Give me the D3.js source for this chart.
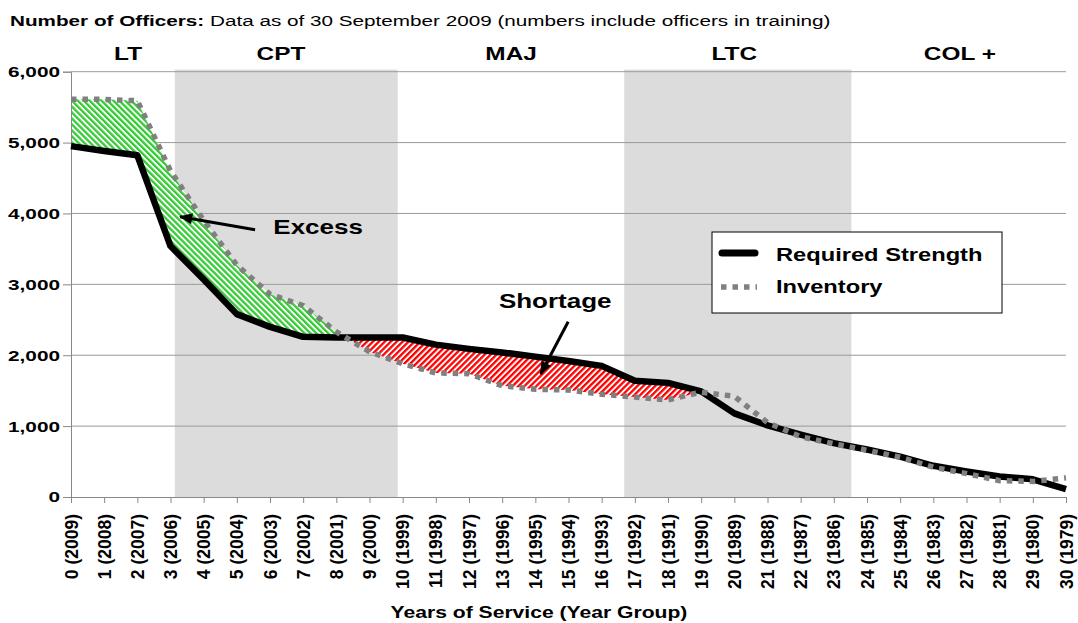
<!DOCTYPE html>
<html>

<head>
    <title>Number of Officers</title>
    <script src="https://d3js.org/d3.v7.min.js"></script>
</head>

<body>
    <style>
        body {
            margin: 0;
            background-color: #ffffff;
            font-family: 'Liberation Sans', Arial, sans-serif;
        }
    </style>
    <div id="chart"></div>

    <script>
        // Years of service (year group)
        const categories = ["0 (2009)", "1 (2008)", "2 (2007)", "3 (2006)", "4 (2005)", "5 (2004)", "6 (2003)",
            "7 (2002)", "8 (2001)", "9 (2000)", "10 (1999)", "11 (1998)", "12 (1997)", "13 (1996)", "14 (1995)",
            "15 (1994)", "16 (1993)", "17 (1992)", "18 (1991)", "19 (1990)", "20 (1989)", "21 (1988)", "22 (1987)",
            "23 (1986)", "24 (1985)", "25 (1984)", "26 (1983)", "27 (1982)", "28 (1981)", "29 (1980)", "30 (1979)"];

        const requiredStrength = [4950, 4880, 4820, 3540, 3070, 2580, 2400, 2260, 2250, 2250, 2250, 2150, 2090, 2040,
            1980, 1920, 1850, 1640, 1610, 1490, 1180, 1010, 880, 760, 670, 570, 440, 360, 290, 250, 110];

        const inventory = [5610, 5610, 5590, 4600, 3900, 3270, 2860, 2700, 2330, 2050, 1880, 1750, 1740, 1570,
            1520, 1510, 1450, 1410, 1370, 1480, 1420, 1050, 850, 750, 660, 560, 420, 330, 230, 220, 270];

        const yTicks = [0, 1000, 2000, 3000, 4000, 5000, 6000];

        // grade headers and the shaded grade bands (in year-of-service units)
        const grades = ["LT", "CPT", "MAJ", "LTC", "COL +"];
        const gradePos = [1.72, 6.33, 13.27, 20.0, 26.8];
        const bandStart = [3.13, 16.68];
        const bandEnd = [9.85, 23.53];

        // excess / shortage shading stops at this year of service
        const fillEnd = 19;

        const margin = { top: 71.7, right: 12, bottom: 126, left: 71 };
        const width = 1078 - margin.left - margin.right;
        const height = 623 - margin.top - margin.bottom;

        // text in the original is drawn wider than normal
        function stretch(sel, sx, dx, dy) {
            sel.attr("x", null).attr("y", null)
                .attr("transform", "translate(" + dx + "," + dy + ") scale(" + sx + ",1)");
        }

        const root = d3.select("#chart")
            .append("svg")
            .attr("width", 1078)
            .attr("height", 623);

        const defs = root.append("defs");

        // hatch patterns
        const green = defs.append("pattern")
            .attr("id", "hatchGreen")
            .attr("patternUnits", "userSpaceOnUse")
            .attr("width", 4.2).attr("height", 4.2)
            .attr("patternTransform", "rotate(-45)");
        green.append("rect").attr("width", 4.2).attr("height", 4.2).attr("fill", "#ffffff");
        green.append("rect").attr("width", 2.3).attr("height", 4.2).attr("fill", "#33cc33");

        const red = defs.append("pattern")
            .attr("id", "hatchRed")
            .attr("patternUnits", "userSpaceOnUse")
            .attr("width", 4.2).attr("height", 4.2)
            .attr("patternTransform", "rotate(45)");
        red.append("rect").attr("width", 4.2).attr("height", 4.2).attr("fill", "#ffffff");
        red.append("rect").attr("width", 2.3).attr("height", 4.2).attr("fill", "#ff0000");

        defs.append("marker")
            .attr("id", "arrow")
            .attr("markerUnits", "userSpaceOnUse")
            .attr("viewBox", "0 0 12 10")
            .attr("refX", 11).attr("refY", 5)
            .attr("markerWidth", 14).attr("markerHeight", 11)
            .attr("orient", "auto")
            .append("path")
            .attr("d", "M0,0 L12,5 L0,10 Z")
            .attr("fill", "#000000");

        const svg = root.append("g")
            .attr("transform", "translate(" + margin.left + "," + margin.top + ")");

        const x = d3.scaleLinear()
            .domain([0, categories.length - 1])
            .range([0, width]);

        const y = d3.scaleLinear()
            .domain([0, 6000])
            .range([height, 0]);

        // grade bands
        svg.selectAll(".band")
            .data(bandStart)
            .enter()
            .append("rect")
            .attr("class", "band")
            .attr("x", d => x(d))
            .attr("width", (d, i) => x(bandEnd[i]) - x(d))
            .attr("y", y(6030))
            .attr("height", height - y(6030))
            .attr("fill", "#dcdcdc");

        // gridlines
        svg.selectAll(".grid")
            .data(yTicks.filter(d => d > 0))
            .enter()
            .append("line")
            .attr("class", "grid")
            .attr("x1", 0).attr("x2", width)
            .attr("y1", d => y(d)).attr("y2", d => y(d))
            .attr("stroke", "#9a9a9a")
            .attr("stroke-width", 1);

        // excess (green) and shortage (red) areas
        const idx = categories.map((c, i) => i).filter(i => i <= fillEnd);

        const between = d3.area()
            .x(i => x(i))
            .y0(i => y(requiredStrength[i]))
            .y1(i => y(inventory[i]));

        const aboveReq = d3.area()
            .x(i => x(i))
            .y0(i => y(requiredStrength[i]))
            .y1(-10);

        const belowReq = d3.area()
            .x(i => x(i))
            .y0(i => y(requiredStrength[i]))
            .y1(height + 10);

        defs.append("clipPath").attr("id", "clipAbove")
            .append("path").attr("d", aboveReq(idx));
        defs.append("clipPath").attr("id", "clipBelow")
            .append("path").attr("d", belowReq(idx));

        svg.append("path")
            .attr("d", between(idx))
            .attr("clip-path", "url(#clipAbove)")
            .attr("fill", "url(#hatchGreen)");

        svg.append("path")
            .attr("d", between(idx))
            .attr("clip-path", "url(#clipBelow)")
            .attr("fill", "url(#hatchRed)");

        // axes
        const yAxis = d3.axisLeft(y)
            .tickValues(yTicks)
            .tickFormat(d3.format(","))
            .tickSize(8)
            .tickPadding(3);

        const gy = svg.append("g").call(yAxis);
        gy.select(".domain").attr("stroke", "#888888");
        gy.selectAll(".tick line").attr("stroke", "#888888");
        gy.selectAll(".tick text")
            .attr("font-family", "'Liberation Sans', Arial, sans-serif")
            .attr("font-size", 15.5)
            .attr("font-weight", "bold")
            .attr("fill", "#000000")
            .attr("text-anchor", "end")
            .call(stretch, 1.34, -11, 0);

        const xAxis = d3.axisBottom(x)
            .tickValues(categories.map((c, i) => i))
            .tickFormat(i => categories[i])
            .tickSize(6)
            .tickSizeOuter(0);

        const gx = svg.append("g")
            .attr("transform", "translate(0," + height + ")")
            .call(xAxis);
        gx.select(".domain").attr("stroke", "#888888");
        gx.selectAll(".tick line").attr("stroke", "#888888");
        gx.selectAll(".tick text")
            .attr("font-family", "'Liberation Sans', Arial, sans-serif")
            .attr("font-size", 17.5)
            .attr("font-weight", "bold")
            .attr("fill", "#000000")
            .attr("text-anchor", "end")
            .attr("x", -17)
            .attr("y", 0)
            .attr("dy", "0.35em")
            .attr("transform", "rotate(-90)");

        // lines
        const valueLine = d3.line()
            .x((d, i) => x(i))
            .y(d => y(d));

        svg.append("path")
            .datum(requiredStrength)
            .attr("d", valueLine)
            .attr("fill", "none")
            .attr("stroke", "#000000")
            .attr("stroke-width", 6.5)
            .attr("stroke-linejoin", "round");

        svg.append("path")
            .datum(inventory)
            .attr("d", valueLine)
            .attr("fill", "none")
            .attr("stroke", "#808080")
            .attr("stroke-width", 5.5)
            .attr("stroke-dasharray", "5.5,6");

        // grade headers
        svg.selectAll(".grade")
            .data(grades)
            .enter()
            .append("text")
            .attr("class", "grade")
            .attr("text-anchor", "middle")
            .attr("font-size", 18.5)
            .attr("font-weight", "bold")
            .text(d => d)
            .each(function (d, i) {
                d3.select(this).call(stretch, 1.32, x(gradePos[i]), 60 - margin.top);
            });

        // annotations
        svg.append("line")
            .attr("x1", x(5.55)).attr("y1", y(3770))
            .attr("x2", x(3.29)).attr("y2", y(3955))
            .attr("stroke", "#000000")
            .attr("stroke-width", 3)
            .attr("marker-end", "url(#arrow)");

        svg.append("text")
            .attr("font-size", 20)
            .attr("font-weight", "bold")
            .text("Excess")
            .call(stretch, 1.3, x(6.1), y(3706));

        svg.append("line")
            .attr("x1", x(14.99)).attr("y1", y(2473))
            .attr("x2", x(14.16)).attr("y2", y(1735))
            .attr("stroke", "#000000")
            .attr("stroke-width", 3)
            .attr("marker-end", "url(#arrow)");

        svg.append("text")
            .attr("font-size", 20)
            .attr("font-weight", "bold")
            .attr("text-anchor", "middle")
            .text("Shortage")
            .call(stretch, 1.3, x(14.6), y(2666));

        // legend
        const legend = root.append("g").attr("transform", "translate(712,232)");
        legend.append("rect")
            .attr("width", 290).attr("height", 81)
            .attr("fill", "#ffffff")
            .attr("stroke", "#000000")
            .attr("stroke-width", 1);
        legend.append("line")
            .attr("x1", 10).attr("x2", 43).attr("y1", 21).attr("y2", 21)
            .attr("stroke", "#000000").attr("stroke-width", 7).attr("stroke-linecap", "round");
        legend.append("line")
            .attr("x1", 9).attr("x2", 45).attr("y1", 55).attr("y2", 55)
            .attr("stroke", "#808080").attr("stroke-width", 5.5).attr("stroke-dasharray", "5.5,6");
        legend.append("text")
            .attr("font-size", 18.5).attr("font-weight", "bold")
            .text("Required Strength")
            .call(stretch, 1.28, 64, 28.5);
        legend.append("text")
            .attr("font-size", 18.5).attr("font-weight", "bold")
            .text("Inventory")
            .call(stretch, 1.28, 64, 61);

        // titles
        const title = root.append("text")
            .attr("font-size", 15)
            .call(stretch, 1.38, 10, 25.5);
        title.append("tspan").attr("font-weight", "bold").text("Number of Officers:");
        title.append("tspan").text(" Data as of 30 September 2009 (numbers include officers in training)");

        root.append("text")
            .attr("font-size", 16.5)
            .attr("font-weight", "bold")
            .attr("text-anchor", "middle")
            .text("Years of Service (Year Group)")
            .call(stretch, 1.28, 539, 618);
    </script>
</body>

</html>
